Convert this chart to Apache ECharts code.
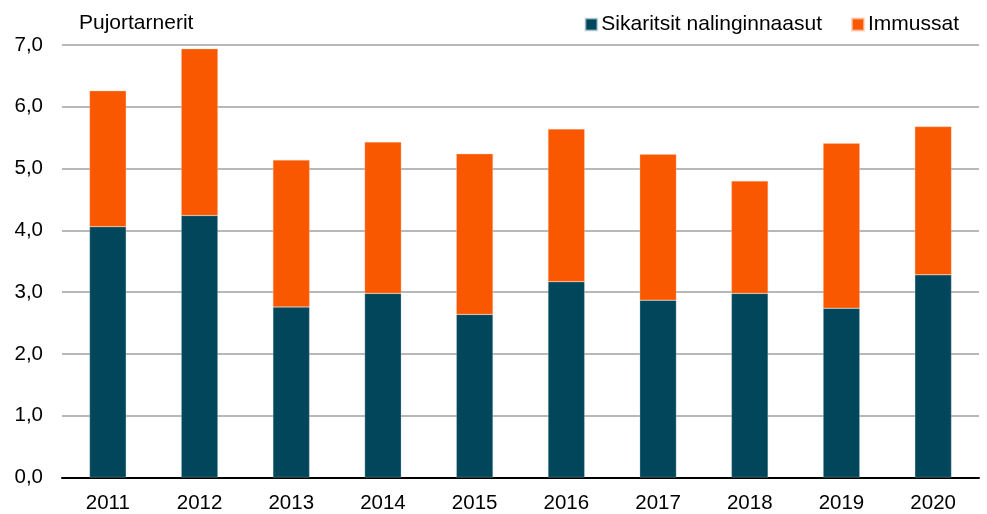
<!DOCTYPE html>
<html>
<head>
<meta charset="utf-8">
<script src="https://cdn.jsdelivr.net/npm/echarts@6/dist/echarts.min.js"></script>
<style>html,body{margin:0;padding:0;background:#fff}#c{width:987px;height:514px}</style>
</head>
<body>
<div id="c"></div>
<script>
const categories = ['2011','2012','2013','2014','2015','2016','2017','2018','2019','2020'];
const cigarettes = [4.06, 4.24, 2.76, 2.98, 2.64, 3.17, 2.87, 2.98, 2.74, 3.28];
const snus = [2.20, 2.70, 2.38, 2.45, 2.60, 2.47, 2.36, 1.82, 2.67, 2.40];
const seriesNames = ['Sikaritsit nalinginnaasut', 'Immussat'];
const yTicks = [0,1,2,3,4,5,6,7];
const unitLabel = 'Pujortarnerit';

const font = 'Liberation Sans, Arial, sans-serif';
const chart = echarts.init(document.getElementById('c'));
chart.setOption({
  animation: false,
  title: {
    text: unitLabel, left: 74, top: 8,
    textStyle: {fontFamily: font, fontSize: 21, fontWeight: 'normal', color: '#000'}
  },
  legend: {
    right: 23, top: 9, itemWidth: 12, itemHeight: 12, itemGap: 29,
    icon: 'rect',
    textStyle: {fontFamily: font, fontSize: 21, color: '#000', padding: [0,0,0,-1]},
    data: seriesNames
  },
  grid: {left: 62, right: 8, top: 45, bottom: 36.5, containLabel: false},
  xAxis: {
    type: 'category', data: categories,
    axisLine: {lineStyle: {color: '#000', width: 2}},
    axisTick: {show: false},
    axisLabel: {fontFamily: font, fontSize: 20.5, color: '#000', margin: 15}
  },
  yAxis: {
    type: 'value', min: yTicks[0], max: yTicks[yTicks.length-1], interval: 1,
    axisLine: {show: false}, axisTick: {show: false},
    splitLine: {lineStyle: {color: '#a0a0a0', width: 1.5}},
    axisLabel: {fontFamily: font, fontSize: 20.5, color: '#000', margin: 19,
      formatter: v => v.toFixed(1).replace('.', ',')}
  },
  series: [
    {name: seriesNames[0], type: 'bar', stack: 'a', data: cigarettes, barWidth: '40%',
     itemStyle: {color: '#01465b', borderColor: 'rgba(200,220,225,0.6)', borderWidth: 0.5}},
    {name: seriesNames[1], type: 'bar', stack: 'a', data: snus, barWidth: '40%',
     itemStyle: {color: '#f95700', borderColor: 'rgba(255,200,170,0.7)', borderWidth: 0.5}}
  ]
});
</script>
</body>
</html>
